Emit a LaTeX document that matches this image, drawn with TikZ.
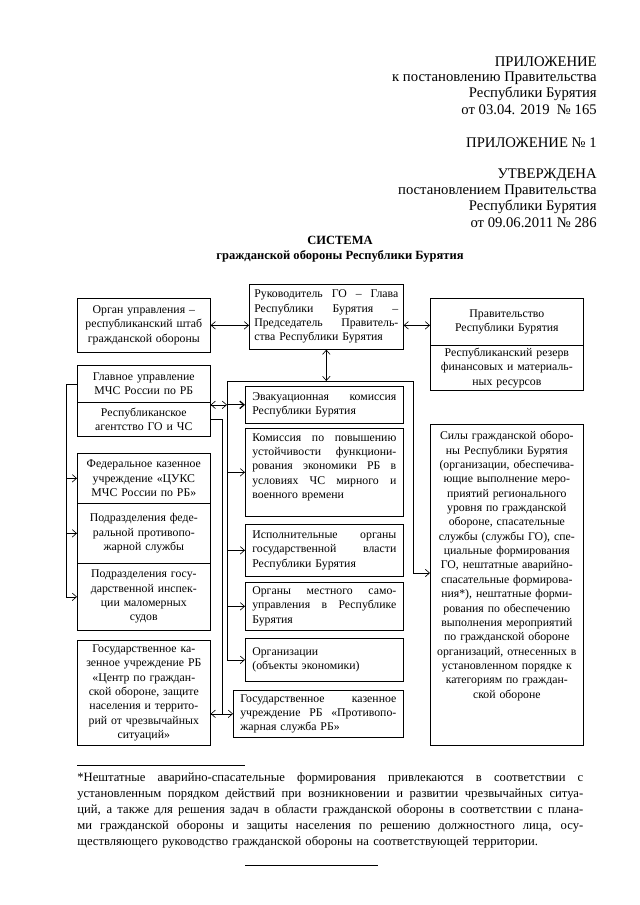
\documentclass[tikz,border=0pt]{standalone}
\usepackage{fontspec}
\setmainfont{Liberation Serif}
\usetikzlibrary{arrows.meta,calc}
\newcommand{\pxu}{0.328mm}
\newcommand{\jl}[1]{\makebox[\linewidth][s]{\spaceskip=0pt\xspaceskip=0pt #1}}

\begin{document}
\begin{tikzpicture}
        [x=0.328mm, y=-0.328mm, >={Straight Barb[length=4pt,width=7pt]}, line width=0.6pt,
        box/.style={draw, rectangle, anchor=north west, inner sep=0pt, font=\fontsize{11}{13.4}\selectfont, align=center},
        jbox/.style={box, align=left},
        txt/.style={inner sep=0pt, font=\fontsize{11}{13.4}\selectfont},
        head/.style={anchor=east, inner sep=0pt, font=\fontsize{13.7}{15}\selectfont},
        title/.style={inner sep=0pt, font=\fontsize{11.7}{15}\selectfont\bfseries}]
        \useasboundingbox (0,0) rectangle (640,905);

        % header
        \node[head] (h1) at (597,62) {ПРИЛОЖЕНИЕ};
        \node[head] (h2) at (597,78) {к постановлению Правительства};
        \node[head] (h3) at (597,94) {Республики Бурятия};
        \node[head] (h4) at (597,110) {от 03.04. 2019\ \ № 165};
        \node[head] (h5) at (597,143) {ПРИЛОЖЕНИЕ № 1};
        \node[head] (h6) at (597,175) {УТВЕРЖДЕНА};
        \node[head] (h7) at (597,191) {постановлением Правительства};
        \node[head] (h8) at (597,207) {Республики Бурятия};
        \node[head] (h9) at (597,223) {от 09.06.2011 № 286};
        \node[title] (t1) at (340,240) {СИСТЕМА};
        \node[title] (t2) at (340,256) {гражданской обороны Республики Бурятия};

        % top row
        \node[box, minimum width=133*\pxu, minimum height=54*\pxu, text width=125*\pxu] (org) at (77,298) {Орган управления –\\республиканский штаб\\гражданской обороны};
        \node[jbox, minimum width=154*\pxu, minimum height=65*\pxu, text width=144*\pxu] (ruk) at (249,284) {\jl{Руководитель ГО – Глава}\\\jl{Республики Бурятия –}\\\jl{Председатель Правитель-}\\ства Республики Бурятия};
        \node[box, minimum width=153*\pxu, minimum height=47*\pxu, text width=145*\pxu] (pravtop) at (430,298) {Правительство\\Республики Бурятия};
        \node[box, minimum width=153*\pxu, minimum height=45*\pxu, text width=145*\pxu] (pravbot) at (430,345) {Республиканский резерв\\финансовых и материаль-\\ных ресурсов};

        % left column
        \node[box, minimum width=133*\pxu, minimum height=37*\pxu, text width=125*\pxu] (gutop) at (77,365) {Главное управление\\МЧС России по РБ};
        \node[box, minimum width=133*\pxu, minimum height=34*\pxu, text width=125*\pxu] (gubot) at (77,402) {Республиканское\\агентство ГО и ЧС};
        \node[box, minimum width=133*\pxu, minimum height=50*\pxu, text width=125*\pxu] (cell1) at (77,453) {Федеральное казенное\\учреждение «ЦУКС\\МЧС России по РБ»};
        \node[box, minimum width=133*\pxu, minimum height=60*\pxu, text width=125*\pxu] (cell2) at (77,503) {Подразделения феде-\\ральной противопо-\\жарной службы};
        \node[box, minimum width=133*\pxu, minimum height=67*\pxu, text width=125*\pxu] (cell3) at (77,563) {Подразделения госу-\\дарственной инспек-\\ции маломерных\\судов};
        \node[box, minimum width=133*\pxu, minimum height=105*\pxu, text width=125*\pxu] (centr) at (77,640) {Государственное ка-\\зенное учреждение РБ\\«Центр по граждан-\\ской обороне, защите\\населения и террито-\\рий от чрезвычайных\\ситуаций»};

        % middle column
        \node[jbox, minimum width=158*\pxu, minimum height=37*\pxu, text width=144*\pxu] (evak) at (245,386) {\jl{Эвакуационная комиссия}\\Республики Бурятия};
        \node[box, minimum width=158*\pxu, minimum height=88*\pxu] (kom) at (245,428) {};
        \node[txt, anchor=north west, text width=144*\pxu, align=left] (komtxt) at (252,433) {\jl{Комиссия по повышению}\\\jl{устойчивости функциони-}\\\jl{рования экономики РБ в}\\\jl{условиях ЧС мирного и}\\военного времени};
        \node[jbox, minimum width=158*\pxu, minimum height=52*\pxu, text width=144*\pxu] (isp) at (245,524) {\jl{Исполнительные органы}\\\jl{государственной власти}\\Республики Бурятия};
        \node[jbox, minimum width=158*\pxu, minimum height=48*\pxu, text width=144*\pxu] (organy) at (245,582) {\jl{Органы местного само-}\\\jl{управления в Республике}\\Бурятия};
        \node[jbox, minimum width=158*\pxu, minimum height=43*\pxu, text width=144*\pxu] (orgek) at (245,638) {Организации\\(объекты экономики)};
        \node[jbox, minimum width=170*\pxu, minimum height=47*\pxu, text width=156*\pxu] (pozh) at (233,690) {\jl{Государственное казенное}\\\jl{учреждение РБ «Противопо-}\\жарная служба РБ»};

        % right column
        \node[box, minimum width=153*\pxu, minimum height=321*\pxu] (sily) at (430,424) {};
        \node[txt, anchor=north, text width=149*\pxu, align=center] (silytxt) at ($(sily.north)+(0,7)$) {Силы гражданской оборо-\\ны Республики Бурятия\\(организации, обеспечива-\\ющие выполнение меро-\\приятий регионального\\уровня по гражданской\\обороне, спасательные\\службы (службы ГО), спе-\\циальные формирования\\ГО, нештатные аварийно-\\спасательные формирова-\\ния*), нештатные форми-\\рования по обеспечению\\выполнения мероприятий\\по гражданской обороне\\организаций, отнесенных в\\установленном порядке к\\категориям по граждан-\\ской обороне};

        % frame round the middle column
        \coordinate (ftl) at (227,381);
        \coordinate (ftr) at (413,381);
        \coordinate (fbr) at (413,573);
        \coordinate (lb) at (66,383);

        \draw[<->] (org.east) -- (org.east -| ruk.west);
        \draw[<->] (ruk.east |- org.east) -- (pravtop.west |- org.east);
        \draw[<->] (ruk.south) -- (ruk.south |- ftl);
        \draw (ftl) -- (ftr) -- (fbr);
        \draw[->] (fbr) -- (fbr -| sily.west);
        \draw[->] (ftl) |- (orgek.west);
        \draw[<->] (gutop.east |- evak.west) -- (ftl |- evak.west);
        \draw[->, line width=1.2pt] (ftl |- evak.west) -- (evak.west);
        \draw[->] (ftl |- kom.west) -- (kom.west);
        \draw[->] (ftl |- isp.west) -- (isp.west);
        \draw[->] (ftl |- organy.west) -- (organy.west);
        \draw (gubot.east) -| ($(centr.east |- pozh.west)!0.5!(pozh.west)$);
        \draw[<->] (centr.east |- pozh.west) -- (pozh.west);
        \draw[->] (gutop.west) -| (lb |- cell3.west) -- (cell3.west);
        \draw[->] (lb |- cell1.west) -- (cell1.west);
        \draw[->] (lb |- cell2.west) -- (cell2.west);

        % footnote
        \draw (77,765) -- (245,765);
        \node[txt, anchor=north west, text width=506*\pxu, align=left, font=\fontsize{11.8}{15}\selectfont] (fn) at (77,772) {\jl{*Нештатные аварийно-спасательные формирования привлекаются в соответствии с}\\\jl{установленным порядком действий при возникновении и развитии чрезвычайных ситуа-}\\\jl{ций, а также для решения задач в области гражданской обороны в соответствии с плана-}\\\jl{ми гражданской обороны и защиты населения по решению должностного лица, осу-}\\ществляющего руководство гражданской обороны на соответствующей территории.};
        \draw (245,865) -- (378,865);
    \end{tikzpicture}
\end{document}
